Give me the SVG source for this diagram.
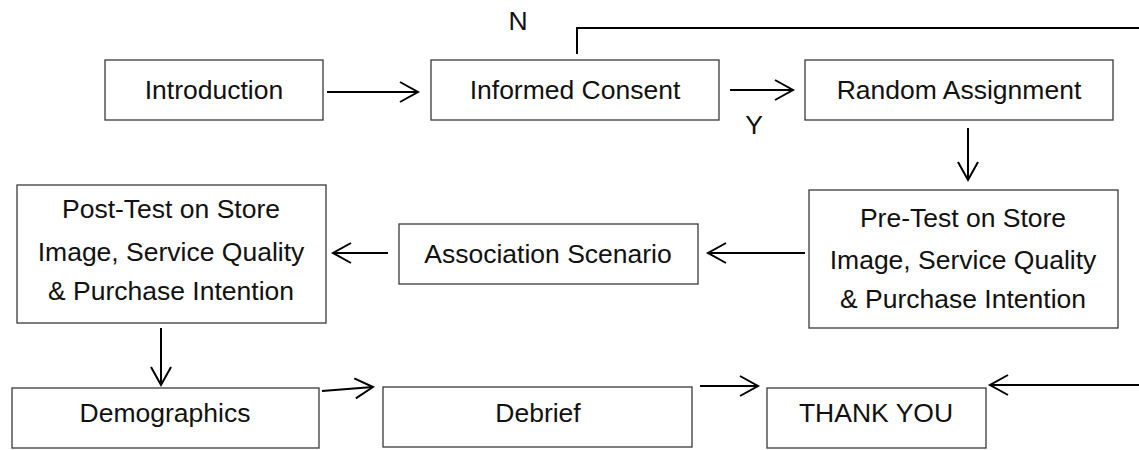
<svg xmlns="http://www.w3.org/2000/svg" width="1139" height="450" viewBox="0 0 1139 450">
<defs>
<style>
.box{fill:#fff;stroke:#3a3a3a;stroke-width:1.3}
.t{font-family:"Liberation Sans",Arial,sans-serif;font-size:26.5px;fill:#111;text-anchor:middle}
.c{fill:none;stroke:#000;stroke-width:2}
</style>
<marker id="ah" markerUnits="userSpaceOnUse" markerWidth="22" markerHeight="24" refX="19" refY="11" orient="auto">
<path d="M1,1 L19,11 L1,21" fill="none" stroke="#000" stroke-width="2"/>
</marker>
</defs>
<rect width="1139" height="450" fill="#fff"/>
<g id="connectors">
<line class="c" x1="327" y1="92" x2="418" y2="92" marker-end="url(#ah)"/>
<line class="c" x1="730" y1="90" x2="793" y2="90" marker-end="url(#ah)"/>
<polyline class="c" points="577,54 577,28 1139,28"/>
<line class="c" x1="968" y1="128" x2="968" y2="180" marker-end="url(#ah)"/>
<line class="c" x1="805" y1="253" x2="708" y2="253" marker-end="url(#ah)"/>
<line class="c" x1="388" y1="253" x2="333" y2="253" marker-end="url(#ah)"/>
<line class="c" x1="161" y1="328" x2="161" y2="385" marker-end="url(#ah)"/>
<line class="c" x1="322" y1="391" x2="373" y2="387" marker-end="url(#ah)"/>
<line class="c" x1="700" y1="386" x2="758" y2="386" marker-end="url(#ah)"/>
<line class="c" x1="1139" y1="385" x2="990" y2="385" marker-end="url(#ah)"/>
<text class="t" x="518" y="30" font-size="21">N</text>
<text class="t" x="754" y="134" font-size="21">Y</text>
</g>
<g id="introduction">
<rect class="box" x="105" y="60" width="218" height="60"/>
<text class="t" x="214" y="99">Introduction</text>
</g>
<g id="informed-consent">
<rect class="box" x="431" y="60" width="288" height="60"/>
<text class="t" x="575" y="99">Informed Consent</text>
</g>
<g id="random-assignment">
<rect class="box" x="805" y="60" width="308" height="60"/>
<text class="t" x="959" y="99">Random Assignment</text>
</g>
<g id="pre-test">
<rect class="box" x="809" y="190" width="309" height="138"/>
<text class="t" x="963" y="227">Pre-Test on Store</text>
<text class="t" x="963" y="269">Image, Service Quality</text>
<text class="t" x="963" y="308">&amp; Purchase Intention</text>
</g>
<g id="association-scenario">
<rect class="box" x="399" y="224" width="299" height="60"/>
<text class="t" x="548" y="263">Association Scenario</text>
</g>
<g id="post-test">
<rect class="box" x="17" y="185" width="309" height="138"/>
<text class="t" x="171" y="218">Post-Test on Store</text>
<text class="t" x="171" y="261">Image, Service Quality</text>
<text class="t" x="171" y="300">&amp; Purchase Intention</text>
</g>
<g id="demographics">
<rect class="box" x="12" y="388" width="307" height="60"/>
<text class="t" x="165" y="422">Demographics</text>
</g>
<g id="debrief">
<rect class="box" x="383" y="387" width="309" height="60"/>
<text class="t" x="538" y="422">Debrief</text>
</g>
<g id="thank-you">
<rect class="box" x="767" y="388" width="219" height="60"/>
<text class="t" x="876" y="422">THANK YOU</text>
</g>
</svg>
